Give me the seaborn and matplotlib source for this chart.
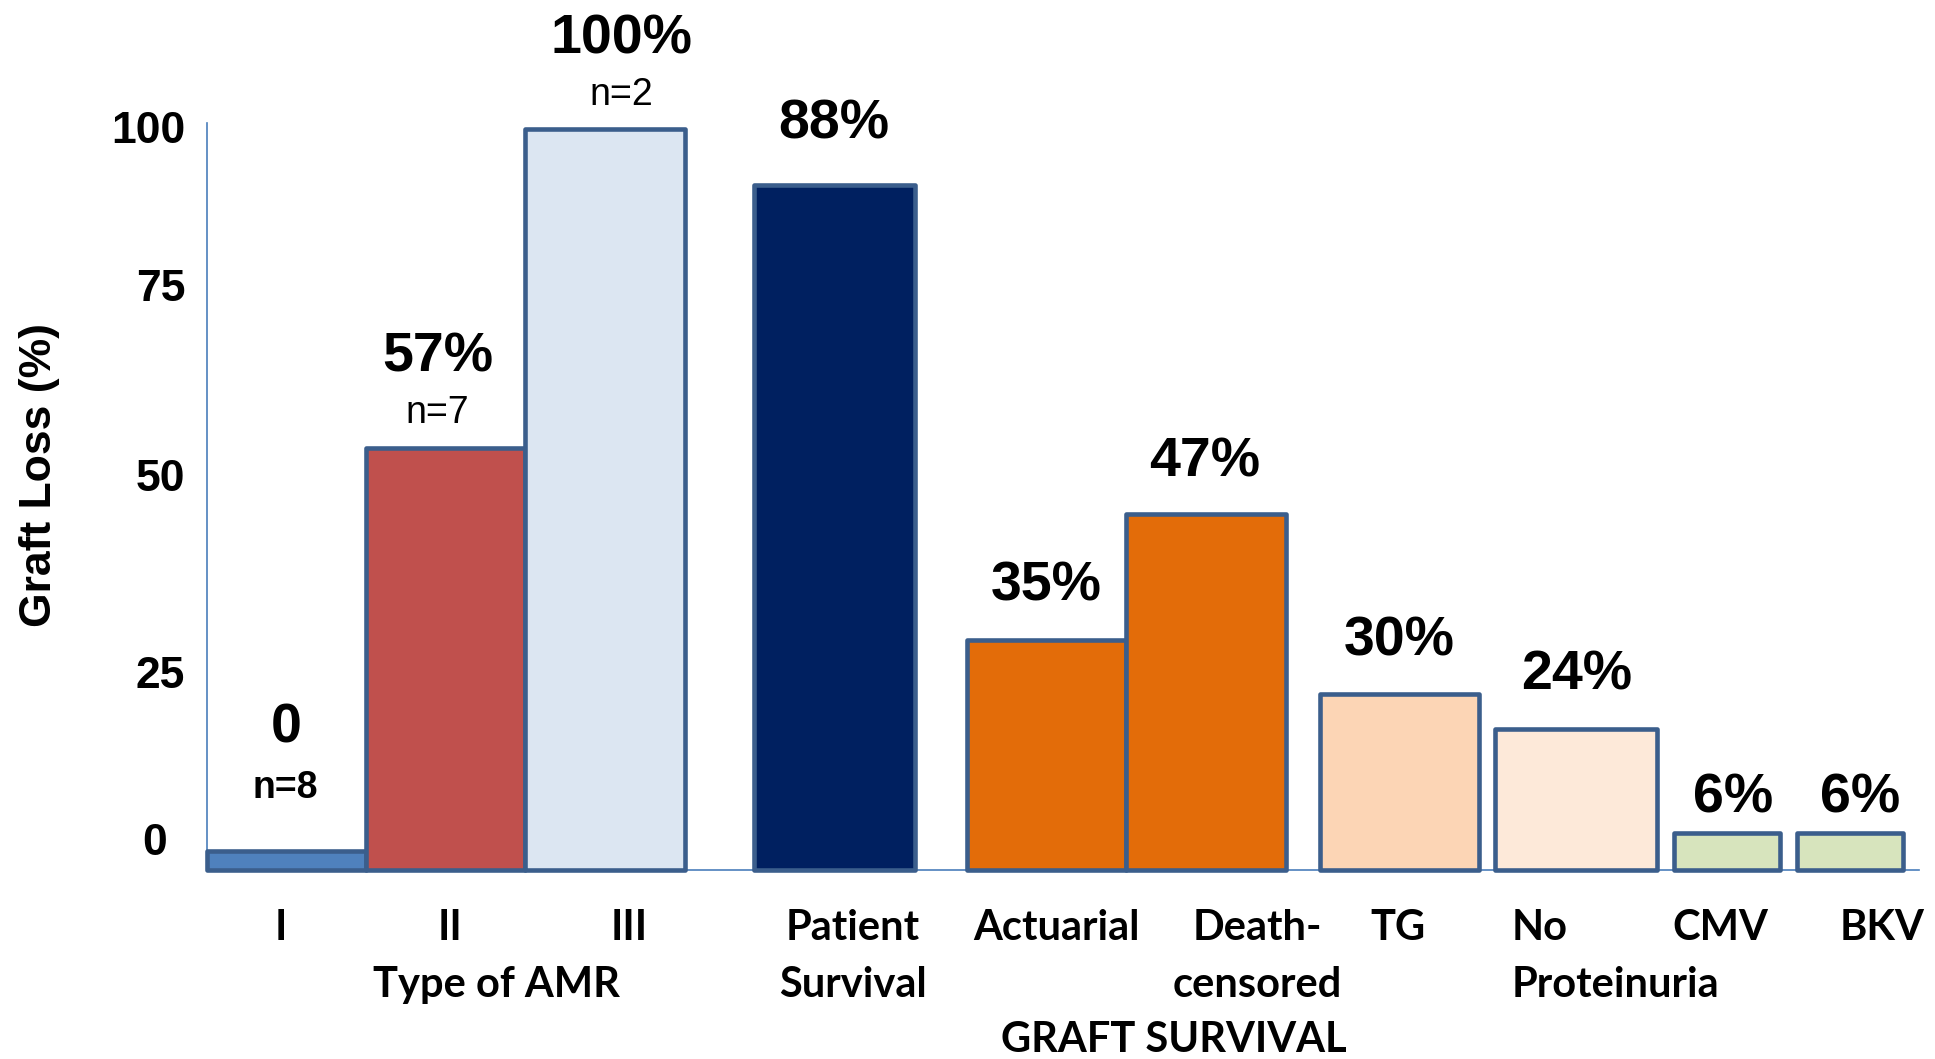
import numpy as np
import pandas as pd
import seaborn as sns
import matplotlib.pyplot as plt

# Data
categories = ["I", "II", "III", "Patient\nSurvival", "Actuarial", "Death-\ncensored",
              "TG", "No\nProteinuria", "CMV", "BKV"]
loss = [2.5, 57, 100, 92.5, 31, 48, 23.7, 19, 5, 5]
value_labels = ["0", "57%", "100%", "88%", "35%", "47%", "30%", "24%", "6%", "6%"]
n_labels = ["n=8", "n=7", "n=2", "", "", "", "", "", "", ""]
ytick_labels = ["100", "75", "50", "25", "0"]
group_labels = ["Type of AMR", "GRAFT SURVIVAL"]

bar_colors = ["#4F81BD", "#C0504D", "#DCE6F2", "#002060", "#E36C09", "#E36C09",
              "#FCD5B5", "#FDE9D9", "#D7E4BD", "#D7E4BD"]
edge_color = "#3B5E8C"
axis_color = "#4A7EBB"

# layout (bar widths = 1 unit)
bar_left = [0, 0.99, 1.99, 3.42, 4.75, 5.75, 6.96, 8.06, 9.18, 9.95]
bar_width = [0.99, 1.0, 1.0, 1.01, 1.0, 1.0, 1.0, 1.01, 0.66, 0.66]
label_x = [0.49, 1.44, 2.59, 3.92, 5.25, 6.24, 7.46, 8.57, 9.55, 10.34]
label_y = [19.1, 69.2, 112.2, 100.6, 38.3, 55.0, 30.9, 26.2, 9.7, 9.7]
n_y = [11.1, 61.7, 104.6]
ytick_pos = [100.3, 79.0, 53.3, 26.7, 4.2]
cat_x = [0.46, 1.52, 2.64, 4.04, 5.31, 6.57, 7.45, 8.16, 9.47, 10.48]
cat_ha = ["center"] * 7 + ["left"] + ["center"] * 2
row_y = [-9.5, -17.2]
group_x = [1.81, 6.05]
group_y = [-17.2, -24.6]

sns.set_theme(style="white")
plt.rcParams['font.family'] = ['Liberation Sans', 'DejaVu Sans']
plt.rcParams['text.color'] = 'black'
plt.rcParams['ytick.labelcolor'] = 'black'
plt.rcParams['ytick.color'] = 'black'

fig = plt.figure(figsize=(19.35, 10.59), dpi=100)
ax = fig.add_axes([0.1072, 0.1785, 0.8845, 0.7049])

df = pd.DataFrame({"category": categories, "loss": loss})
sns.barplot(data=df, x="category", y="loss", hue="category", palette=bar_colors,
            legend=False, saturation=1, edgecolor=edge_color, linewidth=3.3, ax=ax)

for patch, left, w in zip(ax.patches, bar_left, bar_width):
    patch.set_x(left)
    patch.set_width(w)
    patch.set_clip_on(False)
    patch.set_joinstyle("round")

ax.set_xlim(0, 10.71)
ax.set_ylim(0, 100.8)
ax.set_xticks([])
ax.set_xlabel("")
ax.set_ylabel("")

ax.set_yticks(ytick_pos, ytick_labels)
ax.tick_params(axis="y", length=0, labelsize=32, labelcolor="black")
for lab in ax.get_yticklabels():
    lab.set_fontweight("bold")
ticks = ax.yaxis.get_major_ticks()
for t in ticks:
    t.set_pad(16)
ticks[-1].set_pad(29)

for side in ["top", "right"]:
    ax.spines[side].set_visible(False)
for side in ["left", "bottom"]:
    ax.spines[side].set_color(axis_color)
    ax.spines[side].set_linewidth(1.2)
    ax.spines[side].set_zorder(0.5)

# value labels above bars
for x, y, txt in zip(label_x, label_y, value_labels):
    ax.text(x, y, txt, ha="center", va="center", fontsize=40, fontweight="bold",
            color="black", clip_on=False)
for i, y in enumerate(n_y):
    ax.text(label_x[i], y, n_labels[i], ha="center", va="center", fontsize=27,
            fontweight="bold" if i == 0 else "normal", color="black", clip_on=False)

# category labels
for x, ha, txt in zip(cat_x, cat_ha, categories):
    for j, line in enumerate(txt.split("\n")):
        ax.text(x, row_y[j], line, ha=ha, va="baseline", fontsize=30,
                fontweight="bold", family="Lato", color="black", clip_on=False)

for x, y, txt in zip(group_x, group_y, group_labels):
    ax.text(x, y, txt, ha="center", va="baseline", fontsize=30,
            fontweight="bold", family="Lato", color="black", clip_on=False)

fig.text(39 / 1935, 1 - 475 / 1059, "Graft Loss (%)", rotation=90, ha="center",
         va="center", fontsize=32, fontweight="bold", color="black")

fig.savefig("out.png", dpi=100)
